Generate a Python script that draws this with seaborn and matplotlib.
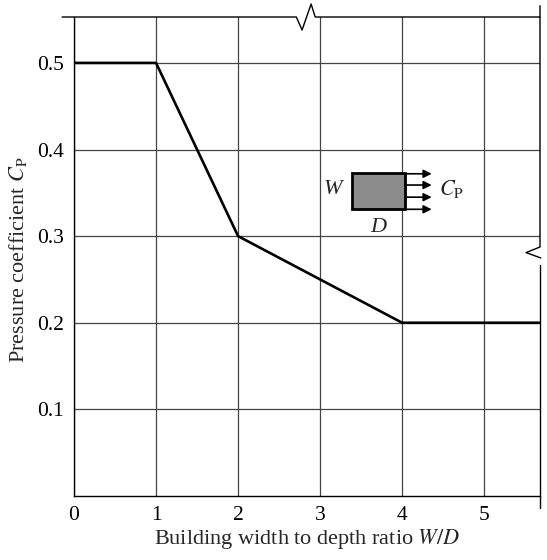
import matplotlib.pyplot as plt
import matplotlib.patches as mpatches
import seaborn as sns
import pandas as pd

# W/D ratio vs pressure coefficient
ratio = [0, 1, 2, 4, 5.7]
cp = [0.5, 0.5, 0.3, 0.2, 0.2]
xticks = [0, 1, 2, 3, 4, 5]
yticks = [0.1, 0.2, 0.3, 0.4, 0.5]

df = pd.DataFrame({"ratio": ratio, "cp": cp})

sns.set_style("white")
plt.rcParams["font.family"] = ["Liberation Serif", "DejaVu Serif"]
plt.rcParams["mathtext.fontset"] = "stix"

fig = plt.figure(figsize=(5.47, 5.6), dpi=100)
ax = fig.add_axes([74 / 547, 1 - 496 / 560, 466 / 547, 479 / 560])

sns.lineplot(data=df, x="ratio", y="cp", color="black", linewidth=1.9, ax=ax, zorder=3)

ax.set_xlim(0, 5.68)
ax.set_ylim(0, 0.553)
ax.set_xticks(xticks)
ax.set_xticklabels([str(t) for t in xticks])
ax.set_yticks(yticks)
ax.set_yticklabels([f"{t:.1f}" for t in yticks])
ax.tick_params(length=0, labelsize=15.5, pad=7, colors="black")
ax.grid(True, color="#444444", linewidth=0.9)

for s in ["top", "right"]:
    ax.spines[s].set_visible(False)
for s in ["left", "bottom"]:
    ax.spines[s].set_color("black")
    ax.spines[s].set_linewidth(1.0)

ax.set_xlabel("Building width to depth ratio $\\it{W/D}$", fontsize=16)
ax.set_ylabel("Pressure coefficient $\\it{C}_{\\rm P}$", fontsize=16)
ax.xaxis.set_label_coords(0.5, -0.064)
ax.yaxis.set_label_coords(-0.097, 0.493)

# top edge with break
ax.plot([-0.145, 2.71, 2.78, 2.89, 2.94, 5.68], [0.553, 0.553, 0.538, 0.568, 0.553, 0.553],
        color="black", lw=1.0, clip_on=False, zorder=4)
# right edge with break
ax.plot([5.68, 5.68, 5.51, 5.69], [0.566, 0.2875, 0.281, 0.2748],
        color="black", lw=1.0, clip_on=False, zorder=4)
ax.plot([5.68, 5.68], [0.2667, -0.014], color="black", lw=1.0, clip_on=False, zorder=4)

# building sketch
ax.add_patch(mpatches.Rectangle((3.39, 0.331), 0.645, 0.042, facecolor="#8c8c8c",
                                edgecolor="black", lw=2.0, zorder=5))
for yy in [0.372, 0.359, 0.345, 0.331]:
    ax.annotate("", xy=(4.36, yy), xytext=(4.035, yy),
                arrowprops=dict(arrowstyle="-|>", color="black", lw=1.2,
                                mutation_scale=12, shrinkA=0, shrinkB=0), zorder=6)
ax.text(3.15, 0.354, "W", fontsize=16, style="italic", ha="center", va="center")
ax.text(3.71, 0.31, "D", fontsize=16, style="italic", ha="center", va="center")
ax.text(4.45, 0.354, "$\\it{C}_{\\rm P}$", fontsize=16, ha="left", va="center")

fig.savefig("out.png", dpi=100)
